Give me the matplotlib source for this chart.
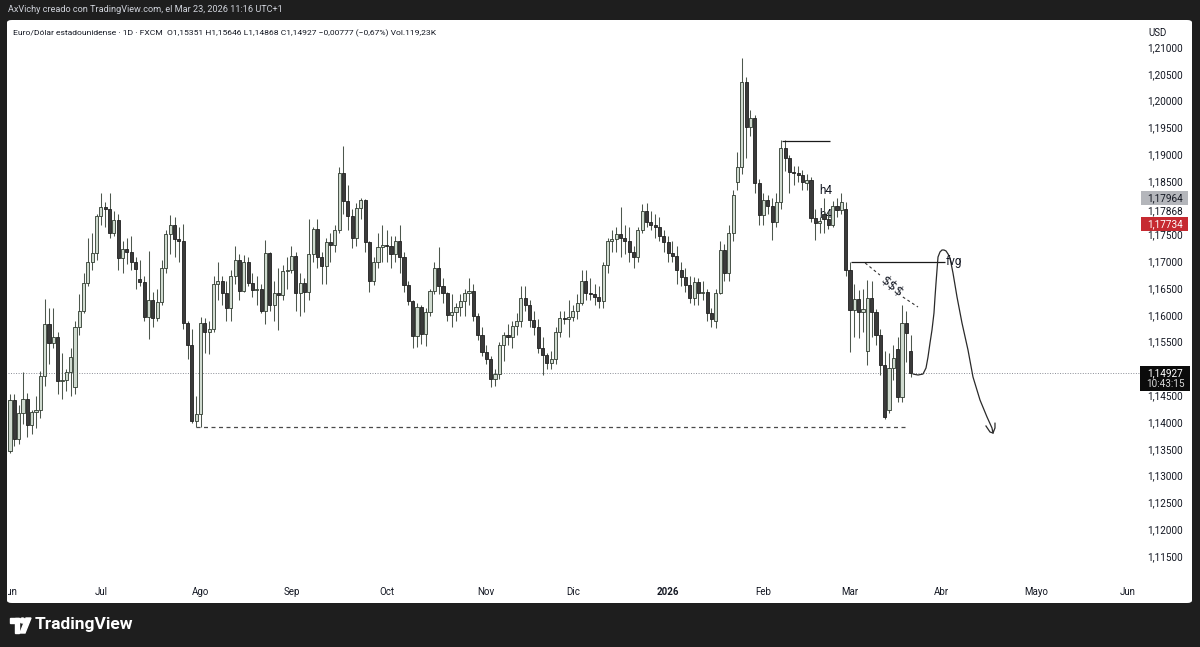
import matplotlib
matplotlib.use("Agg")
import matplotlib.pyplot as plt
import matplotlib.transforms as mtransforms
from matplotlib.patches import Rectangle, FancyBboxPatch, Polygon, Ellipse
import numpy as np

plt.rcParams['font.family'] = ['Roboto', 'DejaVu Sans']

# ---------------- data (EUR/USD daily, FXCM) ----------------
opens = [
1.1347, 1.1443, 1.1370, 1.1418, 1.1445, 1.1396, 1.1420, 1.1424, 1.1487, 1.1585,
1.1550, 1.1561, 1.1478, 1.1480, 1.1495, 1.1467, 1.1580, 1.1610, 1.1662, 1.1700,
1.1718, 1.1787, 1.1804, 1.1799, 1.1755, 1.1779, 1.1708, 1.1725, 1.1720, 1.1700,
1.1668, 1.1663, 1.1598, 1.1630, 1.1596, 1.1626, 1.1690, 1.1753, 1.1770, 1.1743,
1.1740, 1.1586, 1.1545, 1.1403, 1.1416, 1.1587, 1.1570, 1.1575, 1.1660, 1.1665,
1.1642, 1.1614, 1.1675, 1.1705, 1.1647, 1.1700, 1.1662, 1.1648, 1.1650, 1.1609,
1.1718, 1.1620, 1.1642, 1.1639, 1.1683, 1.1685, 1.1712, 1.1643, 1.1662, 1.1645,
1.1716, 1.1762, 1.1709, 1.1694, 1.1737, 1.1733, 1.1760, 1.1867, 1.1814, 1.1786,
1.1746, 1.1802, 1.1817, 1.1737, 1.1665, 1.1701, 1.1729, 1.1733, 1.1730, 1.1716,
1.1740, 1.1710, 1.1658, 1.1627, 1.1563, 1.1616, 1.1567, 1.1607, 1.1646, 1.1689,
1.1655, 1.1642, 1.1601, 1.1607, 1.1617, 1.1627, 1.1643, 1.1646, 1.1600, 1.1565,
1.1533, 1.1520, 1.1483, 1.1492, 1.1545, 1.1565, 1.1560, 1.1582, 1.1590, 1.1633,
1.1621, 1.1592, 1.1580, 1.1540, 1.1527, 1.1512, 1.1520, 1.1570, 1.1597, 1.1595,
1.1598, 1.1610, 1.1625, 1.1666, 1.1643, 1.1640, 1.1636, 1.1628, 1.1695, 1.1740,
1.1743, 1.1752, 1.1745, 1.1740, 1.1720, 1.1710, 1.1760, 1.1795, 1.1775, 1.1770,
1.1765, 1.1750, 1.1738, 1.1718, 1.1712, 1.1686, 1.1673, 1.1658, 1.1633, 1.1663,
1.1643, 1.1645, 1.1605, 1.1590, 1.1643, 1.1723, 1.1680, 1.1755, 1.1850, 1.1878,
1.2037, 1.1953, 1.1969, 1.1848, 1.1788, 1.1816, 1.1805, 1.1775, 1.1813, 1.1913,
1.1895, 1.1869, 1.1867, 1.1863, 1.1848, 1.1853, 1.1783, 1.1773, 1.1790, 1.1780,
1.1770, 1.1805, 1.1798, 1.1800, 1.1686, 1.1611, 1.1632, 1.1607, 1.1535, 1.1634,
1.1607, 1.1565, 1.1508, 1.1425, 1.1503, 1.1538, 1.1449, 1.1587, 1.15351,
]
highs = [
1.1454, 1.1455, 1.1434, 1.1495, 1.1456, 1.1425, 1.1450, 1.1497, 1.1631, 1.1614,
1.1615, 1.1570, 1.1530, 1.1500, 1.1540, 1.1590, 1.1640, 1.1680, 1.1745, 1.1754,
1.1790, 1.1829, 1.1813, 1.1830, 1.1795, 1.1790, 1.1740, 1.1745, 1.1750, 1.1710,
1.1705, 1.1675, 1.1721, 1.1645, 1.1650, 1.1705, 1.1760, 1.1788, 1.1785, 1.1765,
1.1771, 1.1590, 1.1575, 1.1450, 1.1598, 1.1597, 1.1590, 1.1675, 1.1700, 1.1675,
1.1665, 1.1685, 1.1730, 1.1715, 1.1714, 1.1710, 1.1680, 1.1675, 1.1660, 1.1742,
1.1720, 1.1665, 1.1690, 1.1695, 1.1710, 1.1730, 1.1720, 1.1680, 1.1670, 1.1780,
1.1765, 1.1780, 1.1720, 1.1745, 1.1755, 1.1770, 1.1878, 1.1918, 1.1845, 1.1800,
1.1810, 1.1820, 1.1818, 1.1740, 1.1710, 1.1755, 1.1770, 1.1760, 1.1750, 1.1750,
1.1770, 1.1720, 1.1665, 1.1630, 1.1625, 1.1620, 1.1615, 1.1650, 1.1700, 1.1728,
1.1670, 1.1645, 1.1640, 1.1625, 1.1640, 1.1650, 1.1670, 1.1660, 1.1605, 1.1580,
1.1545, 1.1525, 1.1500, 1.1552, 1.1570, 1.1585, 1.1590, 1.1605, 1.1655, 1.1655,
1.1630, 1.1610, 1.1595, 1.1560, 1.1530, 1.1535, 1.1580, 1.1610, 1.1610, 1.1630,
1.1620, 1.1640, 1.1685, 1.1685, 1.1670, 1.1660, 1.1655, 1.1700, 1.1745, 1.1760,
1.1765, 1.1804, 1.1770, 1.1765, 1.1730, 1.1765, 1.1808, 1.1810, 1.1795, 1.1790,
1.1785, 1.1760, 1.1750, 1.1740, 1.1730, 1.1700, 1.1690, 1.1675, 1.1672, 1.1670,
1.1665, 1.1650, 1.1615, 1.1650, 1.1740, 1.1735, 1.1770, 1.1835, 1.1906, 1.2081,
1.2045, 1.1985, 1.1975, 1.1855, 1.1830, 1.1825, 1.1820, 1.1830, 1.1928, 1.1928,
1.1900, 1.1880, 1.1880, 1.1872, 1.1865, 1.1860, 1.1800, 1.1785, 1.1820, 1.1795,
1.1815, 1.1820, 1.1830, 1.1812, 1.1700, 1.1660, 1.1648, 1.1650, 1.1667, 1.1665,
1.1612, 1.1575, 1.1535, 1.1530, 1.1545, 1.1560, 1.1620, 1.1610, 1.15646,
]
lows = [
1.1344, 1.1357, 1.1360, 1.1398, 1.1374, 1.1380, 1.1390, 1.1410, 1.1470, 1.1510,
1.1540, 1.1455, 1.1445, 1.1460, 1.1450, 1.1455, 1.1565, 1.1605, 1.1655, 1.1685,
1.1705, 1.1770, 1.1765, 1.1745, 1.1750, 1.1686, 1.1680, 1.1697, 1.1685, 1.1650,
1.1655, 1.1590, 1.1556, 1.1580, 1.1590, 1.1620, 1.1680, 1.1715, 1.1710, 1.1700,
1.1575, 1.1520, 1.1400, 1.1392, 1.1393, 1.1530, 1.1528, 1.1570, 1.1630, 1.1620,
1.1590, 1.1590, 1.1660, 1.1630, 1.1645, 1.1655, 1.1635, 1.1620, 1.1606, 1.1585,
1.1610, 1.1590, 1.1574, 1.1630, 1.1650, 1.1680, 1.1610, 1.1600, 1.1608, 1.1630,
1.1700, 1.1690, 1.1660, 1.1660, 1.1700, 1.1720, 1.1755, 1.1790, 1.1760, 1.1727,
1.1730, 1.1780, 1.1720, 1.1645, 1.1657, 1.1690, 1.1700, 1.1700, 1.1690, 1.1700,
1.1680, 1.1645, 1.1620, 1.1540, 1.1542, 1.1548, 1.1543, 1.1600, 1.1640, 1.1640,
1.1625, 1.1590, 1.1580, 1.1590, 1.1600, 1.1600, 1.1620, 1.1590, 1.1555, 1.1525,
1.1510, 1.1468, 1.1470, 1.1482, 1.1515, 1.1545, 1.1540, 1.1565, 1.1580, 1.1610,
1.1580, 1.1565, 1.1530, 1.1490, 1.1500, 1.1500, 1.1510, 1.1560, 1.1585, 1.1560,
1.1590, 1.1595, 1.1620, 1.1630, 1.1630, 1.1620, 1.1615, 1.1615, 1.1680, 1.1720,
1.1720, 1.1710, 1.1715, 1.1700, 1.1690, 1.1700, 1.1755, 1.1765, 1.1760, 1.1745,
1.1740, 1.1720, 1.1700, 1.1700, 1.1660, 1.1655, 1.1645, 1.1625, 1.1620, 1.1620,
1.1630, 1.1590, 1.1580, 1.1577, 1.1640, 1.1665, 1.1665, 1.1740, 1.1835, 1.1865,
1.1895, 1.1935, 1.1830, 1.1770, 1.1770, 1.1790, 1.1742, 1.1765, 1.1800, 1.1870,
1.1830, 1.1845, 1.1850, 1.1835, 1.1835, 1.1775, 1.1742, 1.1755, 1.1755, 1.1762,
1.1765, 1.1785, 1.1790, 1.1675, 1.1533, 1.1560, 1.1559, 1.1570, 1.1508, 1.1560,
1.1545, 1.1490, 1.1408, 1.1418, 1.1480, 1.1440, 1.1440, 1.1514, 1.14868,
]
closes = [
1.1443, 1.1370, 1.1418, 1.1445, 1.1396, 1.1420, 1.1424, 1.1487, 1.1585, 1.1550,
1.1561, 1.1478, 1.1480, 1.1495, 1.1523, 1.1580, 1.1610, 1.1662, 1.1700, 1.1718,
1.1787, 1.1804, 1.1799, 1.1755, 1.1779, 1.1708, 1.1725, 1.1720, 1.1700, 1.1688,
1.1663, 1.1598, 1.1630, 1.1596, 1.1626, 1.1690, 1.1753, 1.1770, 1.1743, 1.1740,
1.1586, 1.1545, 1.1403, 1.1416, 1.1587, 1.1570, 1.1575, 1.1660, 1.1665, 1.1642,
1.1614, 1.1675, 1.1705, 1.1647, 1.1700, 1.1662, 1.1648, 1.1650, 1.1609, 1.1718,
1.1620, 1.1642, 1.1639, 1.1683, 1.1685, 1.1712, 1.1643, 1.1662, 1.1645, 1.1716,
1.1762, 1.1709, 1.1694, 1.1737, 1.1733, 1.1760, 1.1867, 1.1814, 1.1786, 1.1746,
1.1802, 1.1817, 1.1737, 1.1665, 1.1701, 1.1729, 1.1733, 1.1730, 1.1716, 1.1740,
1.1710, 1.1658, 1.1627, 1.1563, 1.1616, 1.1567, 1.1607, 1.1646, 1.1689, 1.1655,
1.1642, 1.1601, 1.1607, 1.1617, 1.1627, 1.1643, 1.1646, 1.1600, 1.1565, 1.1533,
1.1520, 1.1483, 1.1492, 1.1545, 1.1565, 1.1560, 1.1582, 1.1590, 1.1633, 1.1621,
1.1592, 1.1580, 1.1540, 1.1527, 1.1512, 1.1520, 1.1570, 1.1597, 1.1595, 1.1598,
1.1610, 1.1625, 1.1666, 1.1643, 1.1640, 1.1636, 1.1628, 1.1695, 1.1740, 1.1743,
1.1752, 1.1745, 1.1740, 1.1720, 1.1710, 1.1760, 1.1795, 1.1775, 1.1770, 1.1765,
1.1750, 1.1738, 1.1718, 1.1712, 1.1686, 1.1673, 1.1658, 1.1633, 1.1663, 1.1643,
1.1645, 1.1605, 1.1594, 1.1643, 1.1723, 1.1680, 1.1755, 1.1826, 1.1878, 1.2037,
1.1953, 1.1969, 1.1848, 1.1788, 1.1816, 1.1805, 1.1775, 1.1813, 1.1913, 1.1895,
1.1869, 1.1867, 1.1863, 1.1850, 1.1853, 1.1783, 1.1773, 1.1778, 1.1780, 1.1770,
1.1805, 1.1798, 1.1813, 1.1686, 1.1611, 1.1632, 1.1607, 1.1613, 1.1634, 1.1607,
1.1565, 1.1508, 1.1411, 1.1503, 1.1522, 1.1449, 1.1587, 1.1568, 1.14927,
]

month_labels = ["Jun", "Jul", "Ago", "Sep", "Oct", "Nov", "Dic", "2026",
                "Feb", "Mar", "Abr", "Mayo", "Jun"]
month_bars = [0, 21, 44, 65, 87, 110, 130, 152, 174, 194, 215, 237, 258]

# 1,18000 and 1,15000 sit behind the marker / last-price labels
price_ticks = [1.115, 1.120, 1.125, 1.130, 1.135, 1.140, 1.145, 1.155,
               1.160, 1.165, 1.170, 1.175, 1.185, 1.190, 1.195, 1.200, 1.205, 1.210]

last_price = 1.14927
countdown = "10:43:15"
marker_prices = [1.17964, 1.17868, 1.17734]

# drawings
support_level, support_bars = 1.1392, (43, 207)
top_level, top_bars = 1.19265, (178.3, 189.4)
fvg_level, fvg_bars = 1.1701, (194.2, 215.9)
liq_seg1_x, liq_seg1_y = [197.5, 200.9], [1.16987, 1.16763]
liq_seg2_x, liq_seg2_y = [206.2, 209.7], [1.16353, 1.16166]
path_x = [208.55, 209.70, 210.85, 211.55, 212.01, 212.47, 212.93, 213.39, 213.63,
          213.86, 214.09, 214.32, 214.78, 215.24, 215.70, 216.17, 216.63, 217.09,
          217.78, 218.71, 219.86, 221.25, 222.40, 224.02, 225.64, 226.79, 227.02,
          227.48, 227.48]
path_y = [1.14915, 1.14897, 1.14915, 1.15028, 1.15233, 1.15494, 1.15737, 1.16054,
          1.16353, 1.16614, 1.16857, 1.17099, 1.17193, 1.17230, 1.17230, 1.17212,
          1.17156, 1.17081, 1.16801, 1.16353, 1.15867, 1.15363, 1.14860, 1.14430,
          1.14113, 1.13908, 1.13814, 1.13908, 1.14001]
hook_x = [225.40, 226.33, 227.02]
hook_y = [1.13945, 1.13833, 1.13814]

# ---------------- layout helpers ----------------
W, H = 1200, 647
PX_PER_BAR = 4.33
BAR0_PX = 10.0
PX_PER_PRICE = 26.79 / 0.005


def bar_at(px):
    return (px - BAR0_PX) / PX_PER_BAR


def price_at(py):
    return 1.21 - (py - 48.0) / PX_PER_PRICE


def fx(px):
    return px / W


def fy(py):
    return 1 - py / H


fig = plt.figure(figsize=(W / 100, H / 100), dpi=100)
fig.patch.set_facecolor('#1e1e1e')

panel = FancyBboxPatch((fx(7), fy(603)), fx(1192) - fx(7), fy(20) - fy(603),
                       boxstyle='round,pad=0,rounding_size=0.004',
                       transform=fig.transFigure, facecolor='white',
                       edgecolor='none', zorder=-5)
fig.add_artist(panel)

AX_L, AX_R, AX_T, AX_B = 8, 1140, 20, 602
ax = fig.add_axes([fx(AX_L), fy(AX_B), (AX_R - AX_L) / W, (AX_B - AX_T) / H])
ax.set_xlim(bar_at(AX_L), bar_at(AX_R))
ax.set_ylim(price_at(AX_B), price_at(AX_T))
ax.set_axis_off()


def axx(px):
    return (px - AX_L) / (AX_R - AX_L)


def axy(py):
    return (AX_B - py) / (AX_B - AX_T)


blend_y = mtransforms.blended_transform_factory(ax.transAxes, ax.transData)
blend_x = mtransforms.blended_transform_factory(ax.transData, ax.transAxes)

# ---------------- candles ----------------
o = np.array(opens); h = np.array(highs); l = np.array(lows); c = np.array(closes)
idx = np.arange(len(c))
up = c >= o
lo = np.minimum(o, c)
ht = np.maximum(np.abs(c - o), 0.00012)

ax.vlines(idx, l, h, colors='#4d574d', linewidth=0.75, zorder=3)
ax.bar(idx[up], ht[up], bottom=lo[up], width=0.72, color='#cfdacf',
       edgecolor='#2f3a2f', linewidth=0.6, zorder=4)
ax.bar(idx[~up], ht[~up], bottom=lo[~up], width=0.72, color='#3a3a3a',
       edgecolor='#1f1f1f', linewidth=0.6, zorder=4)

# ---------------- drawings ----------------
ax.axhline(last_price, color='#8a8d96', lw=0.7, ls=(0, (1, 1.6)), zorder=2)
ax.hlines(support_level, *support_bars, color='#4a4a4a', lw=0.9,
          ls=(0, (3.2, 2.8)), zorder=2)
ax.hlines(top_level, *top_bars, color='#1a1a1a', lw=0.9, zorder=5)
ax.hlines(fvg_level, *fvg_bars, color='#1a1a1a', lw=0.9, zorder=5)
ax.plot(liq_seg1_x, liq_seg1_y, color='#333333', lw=0.8, ls=(0, (2.5, 2.5)), zorder=5)
ax.plot(liq_seg2_x, liq_seg2_y, color='#333333', lw=0.8, ls=(0, (2.5, 2.5)), zorder=5)
ax.text(bar_at(892), price_at(287), r'\$\$\$', rotation=-40, ha='center', va='center',
        fontsize=9.5, color='#131722', zorder=6, family=['DejaVu Sans'])
ax.plot(path_x, path_y, color='#2a2a2a', lw=0.9, zorder=6, solid_capstyle='round')
ax.plot(hook_x, hook_y, color='#2a2a2a', lw=0.9, zorder=6)
ax.text(bar_at(946), price_at(262), 'fvg', ha='left', va='center', fontsize=8.5,
        color='#131722', zorder=6)
ax.text(bar_at(826), price_at(191), 'h4', ha='center', va='center', fontsize=8.5,
        color='#131722', zorder=6)
ax.text(bar_at(826), price_at(215), 'h4', ha='center', va='center', fontsize=8.5,
        color='#131722', zorder=1)

# ---------------- time axis ----------------
for lab, b in zip(month_labels, month_bars):
    ax.text(b, axy(592), lab, transform=blend_x, ha='center', va='center',
            fontsize=7, color='#131722',
            fontweight='bold' if lab == '2026' else 'normal', clip_on=True)

# ---------------- price axis ----------------
def fmt(p):
    return f"{p:.5f}".replace('.', ',')


for p in price_ticks:
    ax.text(axx(1165), p, fmt(p), transform=blend_y, ha='center', va='center',
            fontsize=7.2, color='#131722', clip_on=False)
ax.text(axx(1158), price_at(33), 'USD', transform=blend_y, ha='center',
        va='center', fontsize=7, color='#131722', clip_on=False)

# stacked marker labels
box_w = (1188 - 1141) / (AX_R - AX_L)
ax.add_patch(Rectangle((axx(1141), price_at(204.5)), box_w,
                       price_at(191.5) - price_at(204.5), transform=blend_y,
                       facecolor='#b4b6bb', edgecolor='none', clip_on=False, zorder=7))
ax.text(axx(1165), price_at(198), fmt(marker_prices[0]), transform=blend_y,
        ha='center', va='center', fontsize=7.2, color='#131722', clip_on=False, zorder=8)
ax.text(axx(1165), price_at(211), fmt(marker_prices[1]), transform=blend_y,
        ha='center', va='center', fontsize=7.2, color='#131722', clip_on=False, zorder=8)
ax.add_patch(Rectangle((axx(1141), price_at(230.5)), box_w,
                       price_at(217.5) - price_at(230.5), transform=blend_y,
                       facecolor='#c62a31', edgecolor='none', clip_on=False, zorder=7))
ax.text(axx(1165), price_at(224), fmt(marker_prices[2]), transform=blend_y,
        ha='center', va='center', fontsize=7.2, color='white', clip_on=False, zorder=8)

# last price box
ax.add_patch(Rectangle((axx(1140), price_at(391)), (1190 - 1140) / (AX_R - AX_L),
                       price_at(366) - price_at(391), transform=blend_y,
                       facecolor='#0b0b0b', edgecolor='none', clip_on=False, zorder=7))
ax.text(axx(1165), price_at(373), fmt(last_price), transform=blend_y, ha='center',
        va='center', fontsize=7.2, color='white', clip_on=False, zorder=8)
ax.text(axx(1165), price_at(384), countdown, transform=blend_y, ha='center',
        va='center', fontsize=7.2, color='#d8d8d8', clip_on=False, zorder=8)

# ---------------- header texts ----------------
fig.text(fx(8), fy(10), 'AxVichy creado con TradingView.com, el Mar 23, 2026 11:16 UTC+1',
         color='#d1d4dc', fontsize=6.6, va='center', ha='left')
fig.text(fx(13), fy(33),
         'Euro/Dólar estadounidense · 1D · FXCM  O1,15351 H1,15646 L1,14868 '
         'C1,14927 \u22120,00777 (\u22120,67%) Vol.119,23K',
         color='#131722', fontsize=6.1, va='center', ha='left')

# ---------------- TradingView logo ----------------
logo_col = 'white'
fig.add_artist(Rectangle((fx(10), fy(623)), fx(19) - fx(10), fy(618) - fy(623),
                         transform=fig.transFigure, color=logo_col))
fig.add_artist(Rectangle((fx(14.5), fy(633)), fx(19) - fx(14.5), fy(618) - fy(633),
                         transform=fig.transFigure, color=logo_col))
fig.add_artist(Ellipse((fx(22.5), fy(620.5)), 5 / W, 5 / H,
                       transform=fig.transFigure, color=logo_col))
fig.add_artist(Polygon([(fx(26), fy(618)), (fx(31), fy(618)), (fx(25), fy(633)),
                        (fx(20), fy(633))], closed=True,
                       transform=fig.transFigure, color=logo_col))
fig.text(fx(35), fy(625), 'TradingView', color='white', fontsize=12.5,
         fontweight='bold', va='center', ha='left')

fig.savefig('out.png', dpi=100, facecolor=fig.get_facecolor())
